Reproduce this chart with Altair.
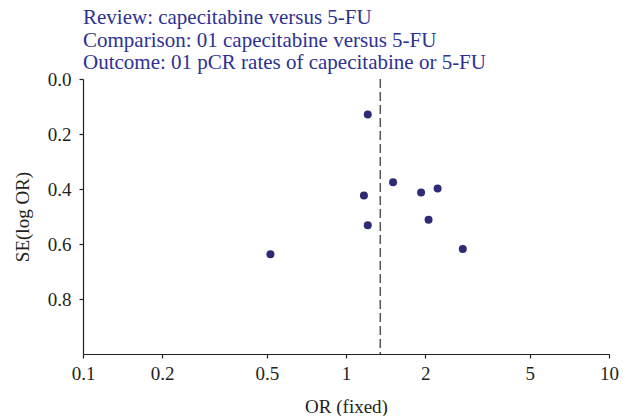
import altair as alt
import pandas as pd

# Study-level odds ratios and standard errors
odds_ratio = [1.21, 1.51, 1.17, 1.93, 2.23, 2.06, 1.21, 0.516, 2.78]
se_log_or = [0.129, 0.375, 0.424, 0.413, 0.398, 0.512, 0.532, 0.637, 0.618]
pooled_or = [1.35]

x_ticks = [0.1, 0.2, 0.5, 1, 2, 5, 10]
y_ticks = [0.0, 0.2, 0.4, 0.6, 0.8]
title_lines = [
    "Review: capecitabine versus 5-FU",
    "Comparison: 01 capecitabine versus 5-FU",
    "Outcome: 01 pCR rates of capecitabine or 5-FU",
]

pts = pd.DataFrame({"or": odds_ratio, "se": se_log_or})
pooled = pd.DataFrame({"or": pooled_or})

FONT = "Liberation Serif"
AX = "#231f20"

xscale = alt.Scale(type="log", domain=[0.1, 10], nice=False)
yscale = alt.Scale(domain=[0, 1], reverse=True, nice=False, zero=False)

xaxis = alt.Axis(values=x_ticks, format="~g", title="OR (fixed)", grid=False,
                 tickSize=4, labelPadding=6, labelFlush=False,
                 titleY=52, titleBaseline="middle")
yaxis = alt.Axis(values=y_ticks, format=".1f", title="SE(log OR)", grid=False,
                 tickSize=4, labelPadding=8, labelFlush=False,
                 titleX=-61, titleBaseline="middle")

points = alt.Chart(pts).mark_point(filled=True, size=64, color="#2d2b73", opacity=1).encode(
    x=alt.X("or:Q", scale=xscale, axis=xaxis),
    y=alt.Y("se:Q", scale=yscale, axis=yaxis),
)

rule = alt.Chart(pooled).mark_rule(color="#555555", strokeWidth=1.5, strokeDash=[9, 4]).encode(
    x=alt.X("or:Q", scale=xscale),
)

chart = alt.layer(rule, points).properties(
    width=526,
    height=275,
    autosize=alt.AutoSizeParams(type="none"),
    padding={"left": 75, "top": 71, "right": 13, "bottom": 62},
    title=alt.TitleParams(text=title_lines, anchor="start", frame="group", fontSize=21,
                          lineHeight=22.5, font=FONT, fontWeight="normal", color="#2e3192",
                          offset=4, dy=24, baseline="alphabetic"),
).configure_view(strokeWidth=0).configure_axis(
    labelFont=FONT, titleFont=FONT, labelFontSize=19, titleFontSize=19,
    titleFontWeight="normal", labelColor=AX, titleColor=AX,
    domainColor=AX, tickColor=AX, domainWidth=1.2, tickWidth=1.2,
)

chart.save("out.html", embed_options={"renderer": "svg", "actions": False})
